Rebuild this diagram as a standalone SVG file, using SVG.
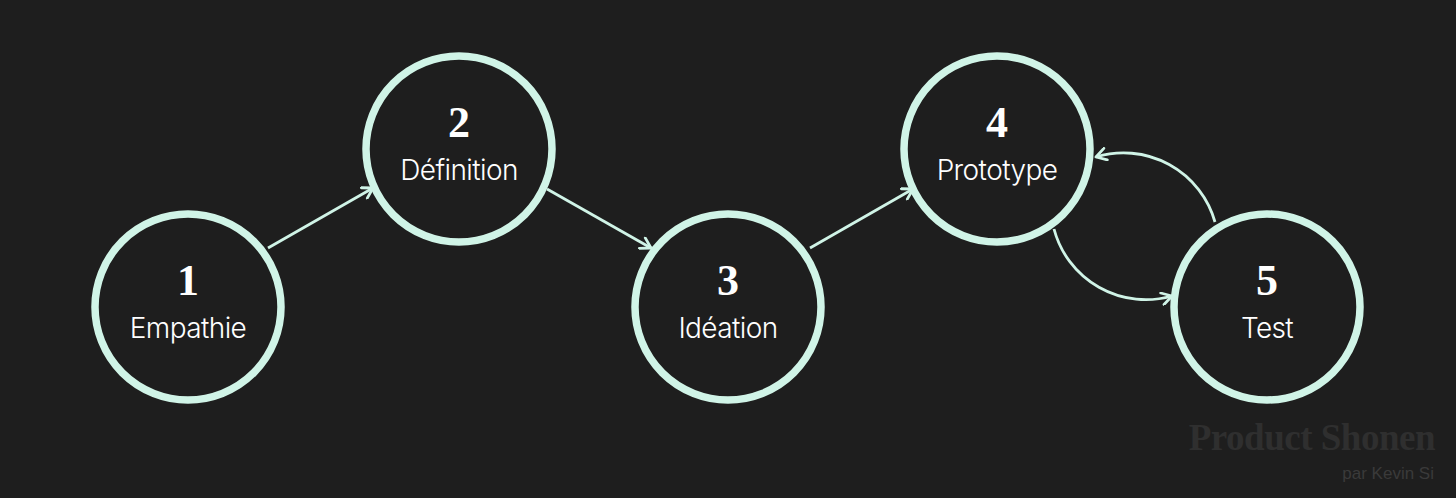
<svg xmlns="http://www.w3.org/2000/svg" width="1456" height="498" viewBox="0 0 1456 498">
<style>
.node{fill:none;stroke:#d0f4e7;stroke-width:7.5}
.num{font-family:"Liberation Serif",serif;font-weight:bold;font-size:44px;fill:#ffffff;text-anchor:middle}
.lbl{font-family:Inter,"Liberation Sans",sans-serif;font-weight:300;font-size:28px;letter-spacing:-0.6px;fill:#ffffff;text-anchor:middle}
.edge{fill:none;stroke:#d0f4e7;stroke-width:2.8;marker-end:url(#ah)}
</style>
<defs>
<marker id="ah" viewBox="0 0 14 14" refX="12" refY="7" markerWidth="14" markerHeight="14" markerUnits="userSpaceOnUse" orient="auto">
<path d="M2,1 L12,7 L2,13" fill="none" stroke="#d0f4e7" stroke-width="2.8" stroke-linecap="round" stroke-linejoin="round"/>
</marker>
</defs>
<rect width="1456" height="498" fill="#1e1e1e"/>
<g id="connectors">
<line class="edge" x1="268" y1="248" x2="373" y2="188"/>
<line class="edge" x1="547" y1="189" x2="651" y2="248"/>
<line class="edge" x1="810" y1="248" x2="913" y2="189"/>
<path class="edge" d="M1054,229 A95,95 0 0 0 1172,296"/>
<path class="edge" d="M1215,222 A95,95 0 0 0 1096,157"/>
</g>
<g id="node1"><circle class="node" cx="188" cy="307" r="93"/><text class="num" x="188" y="295">1</text><text class="lbl" x="188" y="338">Empathie</text></g>
<g id="node2"><circle class="node" cx="459" cy="149" r="93"/><text class="num" x="459" y="137">2</text><text class="lbl" x="459" y="180">Définition</text></g>
<g id="node3"><circle class="node" cx="728" cy="307" r="93"/><text class="num" x="728" y="295">3</text><text class="lbl" x="728" y="338">Idéation</text></g>
<g id="node4"><circle class="node" cx="997" cy="149" r="93"/><text class="num" x="997" y="137">4</text><text class="lbl" x="997" y="180">Prototype</text></g>
<g id="node5"><circle class="node" cx="1267" cy="307" r="93"/><text class="num" x="1267" y="295">5</text><text class="lbl" x="1267" y="338">Test</text></g>
<g id="watermark">
<text x="1435" y="450" text-anchor="end" font-family="'Liberation Serif',serif" font-weight="bold" font-size="37" letter-spacing="-0.5" fill="#2f2f2f">Product Shonen</text>
<text x="1434" y="479" text-anchor="end" font-family="'Liberation Sans',sans-serif" font-size="17" fill="#3a3a3a">par Kevin Si</text>
</g>
</svg>
